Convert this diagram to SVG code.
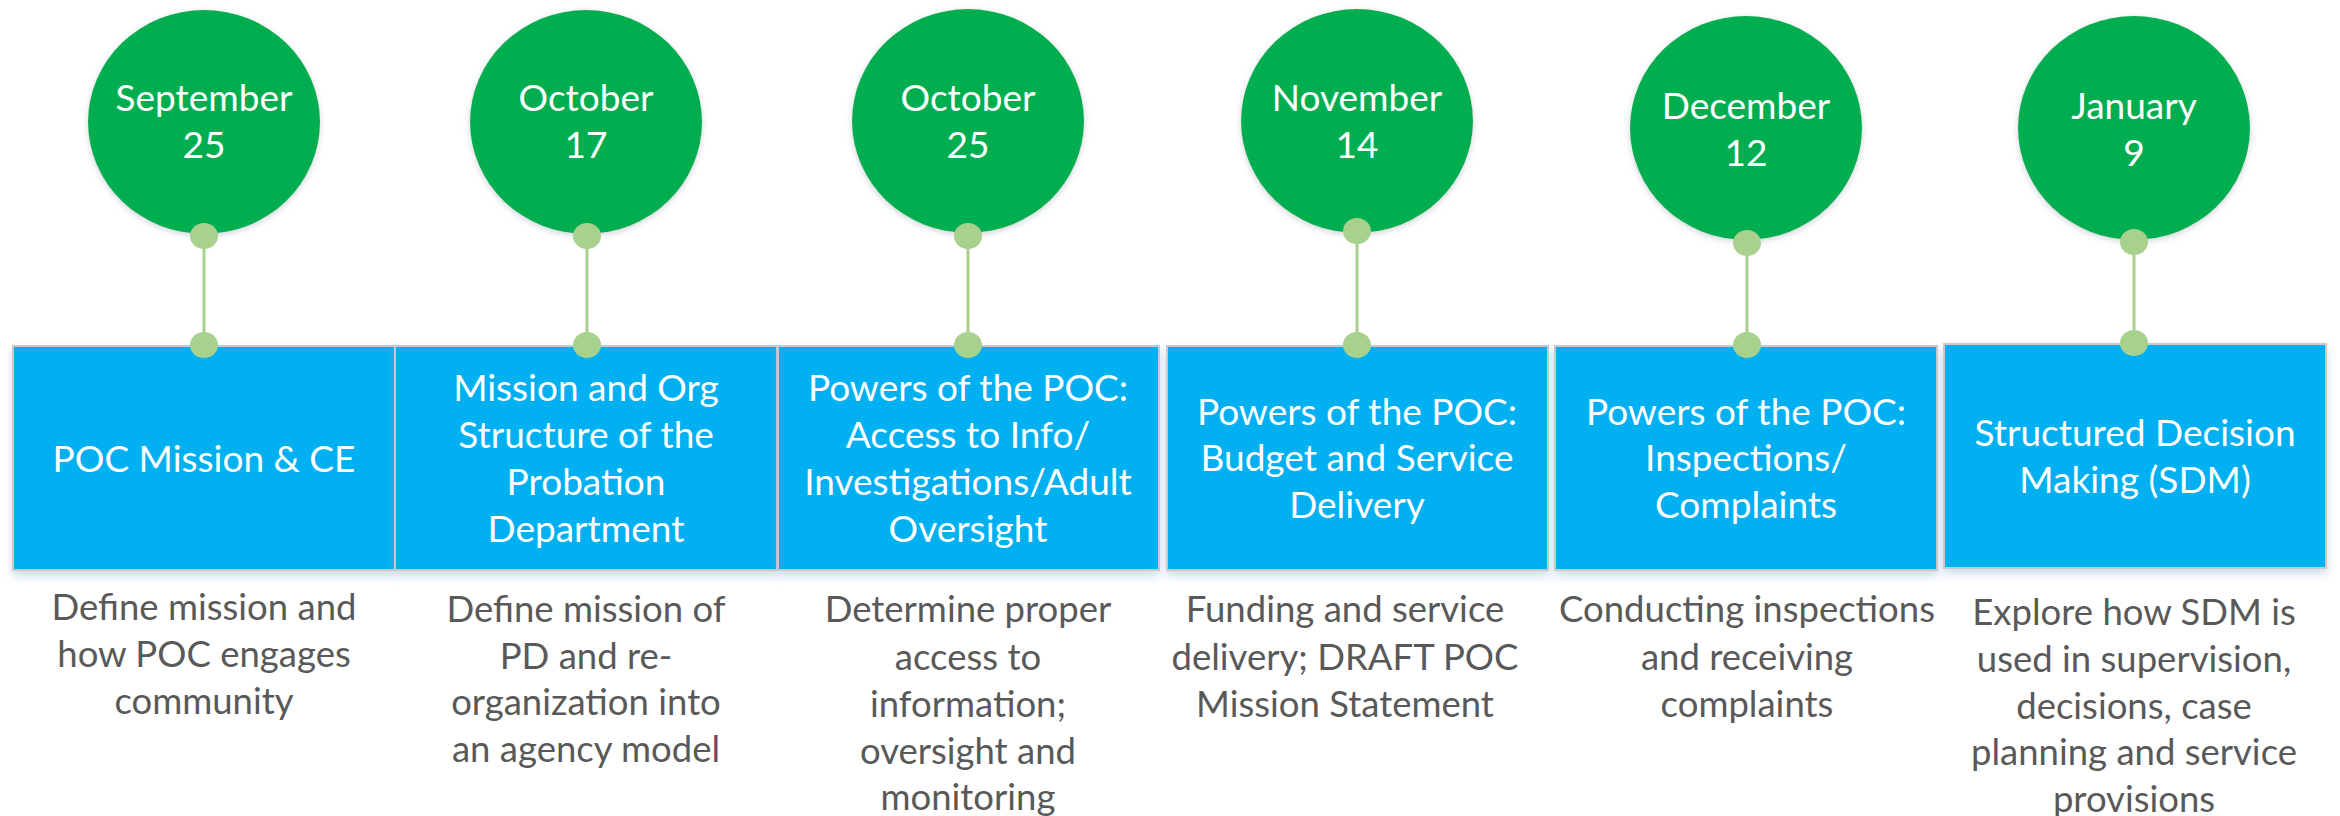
<svg xmlns="http://www.w3.org/2000/svg" width="2340" height="816" viewBox="0 0 2340 816">
<defs>
<filter id="shBox" x="-5%" y="-10%" width="110%" height="130%">
<feDropShadow dx="0" dy="5" stdDeviation="5" flood-color="#8fb4d6" flood-opacity="0.45"/>
</filter>
<filter id="shCirc" x="-10%" y="-10%" width="120%" height="120%">
<feDropShadow dx="0" dy="2" stdDeviation="3" flood-color="#9aa9b8" flood-opacity="0.5"/>
</filter>
</defs>
<style>
.circ{fill:#00AE4F;filter:url(#shCirc)}
.box{fill:#00B0F0;stroke:#C9C9C9;stroke-width:2;filter:url(#shBox)}
.dot{fill:#A9D18E}
.con{stroke:#A9D18E;stroke-width:3;fill:none}
.date{font-family:Lato,"Liberation Sans",sans-serif;font-size:37px;fill:#FFFFFF;text-anchor:middle}
.title{font-family:Lato,"Liberation Sans",sans-serif;font-size:37px;fill:#FFFFFF;text-anchor:middle}
.desc{font-family:Lato,"Liberation Sans",sans-serif;font-size:36.5px;fill:#595959;text-anchor:middle}
</style>
<rect width="2340" height="816" fill="#FFFFFF"/>

<g id="connectors">
<line class="con" x1="204" y1="236" x2="204" y2="345"/>
<line class="con" x1="587" y1="236" x2="587" y2="345"/>
<line class="con" x1="968" y1="236" x2="968" y2="345"/>
<line class="con" x1="1357" y1="231" x2="1357" y2="345"/>
<line class="con" x1="1747" y1="243" x2="1747" y2="345"/>
<line class="con" x1="2134" y1="242" x2="2134" y2="343"/>
</g>

<g id="box1">
<rect class="box" x="13" y="346" width="382" height="224"/>
<text class="title" x="204" y="472">POC Mission &amp; CE</text>
</g>
<g id="box2">
<rect class="box" x="395" y="346" width="382" height="224"/>
<text class="title" x="586" y="401">Mission and Org</text>
<text class="title" x="586" y="448">Structure of the</text>
<text class="title" x="586" y="495">Probation</text>
<text class="title" x="586" y="542">Department</text>
</g>
<g id="box3">
<rect class="box" x="778" y="346" width="381" height="224"/>
<text class="title" x="968" y="401">Powers of the POC:</text>
<text class="title" x="968" y="448">Access to Info/</text>
<text class="title" x="968" y="495">Investigations/Adult</text>
<text class="title" x="968" y="542">Oversight</text>
</g>
<g id="box4">
<rect class="box" x="1167" y="346" width="381" height="224"/>
<text class="title" x="1357" y="425">Powers of the POC:</text>
<text class="title" x="1357" y="471">Budget and Service</text>
<text class="title" x="1357" y="518">Delivery</text>
</g>
<g id="box5">
<rect class="box" x="1555" y="346" width="382" height="224"/>
<text class="title" x="1746" y="425">Powers of the POC:</text>
<text class="title" x="1746" y="471">Inspections/</text>
<text class="title" x="1746" y="518">Complaints</text>
</g>
<g id="box6">
<rect class="box" x="1944" y="344" width="382" height="224"/>
<text class="title" x="2135" y="446">Structured Decision</text>
<text class="title" x="2135" y="493">Making (SDM)</text>
</g>

<g id="date1">
<ellipse class="circ" cx="204" cy="122" rx="116" ry="112"/>
<text class="date" x="204" y="111">September</text>
<text class="date" x="204" y="158">25</text>
</g>
<g id="date2">
<ellipse class="circ" cx="586" cy="122" rx="116" ry="112"/>
<text class="date" x="586" y="111">October</text>
<text class="date" x="586" y="158">17</text>
</g>
<g id="date3">
<ellipse class="circ" cx="968" cy="121" rx="116" ry="112"/>
<text class="date" x="968" y="111">October</text>
<text class="date" x="968" y="158">25</text>
</g>
<g id="date4">
<ellipse class="circ" cx="1357" cy="121" rx="116" ry="112"/>
<text class="date" x="1357" y="111">November</text>
<text class="date" x="1357" y="158">14</text>
</g>
<g id="date5">
<ellipse class="circ" cx="1746" cy="128" rx="116" ry="112"/>
<text class="date" x="1746" y="119">December</text>
<text class="date" x="1746" y="166">12</text>
</g>
<g id="date6">
<ellipse class="circ" cx="2134" cy="128" rx="116" ry="112"/>
<text class="date" x="2134" y="119">January</text>
<text class="date" x="2134" y="166">9</text>
</g>

<g id="dots">
<ellipse class="dot" cx="204" cy="236" rx="14" ry="13"/>
<ellipse class="dot" cx="204" cy="345" rx="14" ry="13"/>
<ellipse class="dot" cx="587" cy="236" rx="14" ry="13"/>
<ellipse class="dot" cx="587" cy="345" rx="14" ry="13"/>
<ellipse class="dot" cx="968" cy="236" rx="14" ry="13"/>
<ellipse class="dot" cx="968" cy="345" rx="14" ry="13"/>
<ellipse class="dot" cx="1357" cy="231" rx="14" ry="13"/>
<ellipse class="dot" cx="1357" cy="345" rx="14" ry="13"/>
<ellipse class="dot" cx="1747" cy="243" rx="14" ry="13"/>
<ellipse class="dot" cx="1747" cy="345" rx="14" ry="13"/>
<ellipse class="dot" cx="2134" cy="242" rx="14" ry="13"/>
<ellipse class="dot" cx="2134" cy="343" rx="14" ry="13"/>
</g>

<g id="desc1">
<text class="desc" x="204" y="620">Define mission and</text>
<text class="desc" x="204" y="667">how POC engages</text>
<text class="desc" x="204" y="714">community</text>
</g>
<g id="desc2">
<text class="desc" x="586" y="622">Define mission of</text>
<text class="desc" x="586" y="669">PD and re-</text>
<text class="desc" x="586" y="715">organization into</text>
<text class="desc" x="586" y="762">an agency model</text>
</g>
<g id="desc3">
<text class="desc" x="968" y="622">Determine proper</text>
<text class="desc" x="968" y="670">access to</text>
<text class="desc" x="968" y="717">information;</text>
<text class="desc" x="968" y="764">oversight and</text>
<text class="desc" x="968" y="810">monitoring</text>
</g>
<g id="desc4">
<text class="desc" x="1345" y="622">Funding and service</text>
<text class="desc" x="1345" y="670">delivery; DRAFT POC</text>
<text class="desc" x="1345" y="717">Mission Statement</text>
</g>
<g id="desc5">
<text class="desc" x="1747" y="622">Conducting inspections</text>
<text class="desc" x="1747" y="670">and receiving</text>
<text class="desc" x="1747" y="717">complaints</text>
</g>
<g id="desc6">
<text class="desc" x="2134" y="625">Explore how SDM is</text>
<text class="desc" x="2134" y="672">used in supervision,</text>
<text class="desc" x="2134" y="719">decisions, case</text>
<text class="desc" x="2134" y="765">planning and service</text>
<text class="desc" x="2134" y="812">provisions</text>
</g>
</svg>
